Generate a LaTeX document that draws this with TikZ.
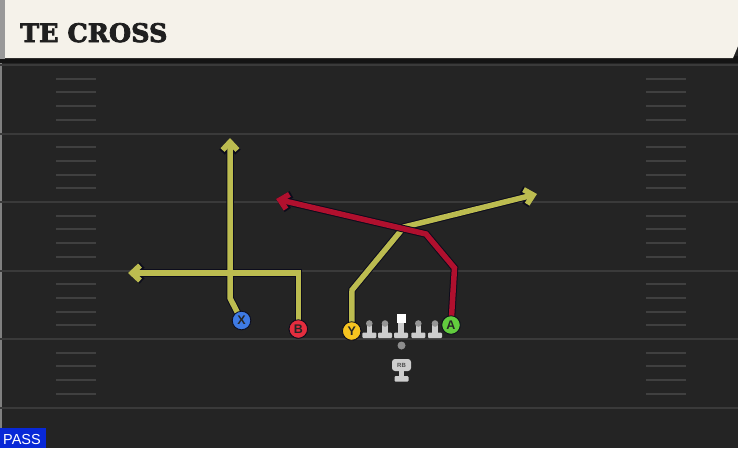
\documentclass[tikz,border=0pt]{standalone}
\usepackage{fontspec}
\setmainfont{Liberation Sans}
\newfontfamily\titlefont[BoldFeatures={FakeBold=3}]{DejaVu Serif}
\usetikzlibrary{arrows.meta}
\definecolor{field}{RGB}{36,36,36}
\definecolor{yardline}{RGB}{58,58,58}
\definecolor{hashc}{RGB}{64,64,64}
\definecolor{cream}{RGB}{245,242,234}
\definecolor{yroute}{RGB}{188,188,80}
\definecolor{rroute}{RGB}{176,16,46}
\definecolor{outl}{RGB}{12,12,28}
\definecolor{xblue}{RGB}{62,122,228}
\definecolor{bred}{RGB}{228,45,62}
\definecolor{yyel}{RGB}{246,196,32}
\definecolor{agreen}{RGB}{98,204,62}
\definecolor{passblue}{RGB}{8,40,215}
\definecolor{olbody}{RGB}{205,205,205}
\definecolor{olhead}{RGB}{150,150,150}
\tikzset{
  yline/.style={draw=yardline, line width=2},
  hashmark/.style={draw=hashc, line width=2},
  routeout/.style={draw=outl, line width=7.5, line join=miter, -{Straight Barb[length=8.5,width=16,line width=7.5]}},
  routey/.style={draw=yroute, line width=5.5, line join=miter, -{Straight Barb[length=8,width=15,line width=5.5]}},
  router/.style={draw=rroute, line width=5.5, line join=miter, -{Straight Barb[length=8,width=15,line width=5.5]}},
  player/.style={circle, draw=outl, line width=0.8, minimum size=18.5, inner sep=0, font=\fontsize{12.5}{12.5}\selectfont\bfseries, text=black!85},
  ol/.pic={
    \fill[olbody, rounded corners=1] (-7,0) rectangle (7,-5.5);
    \fill[olbody] (-2.8,-4) rectangle (2.8,-14);
    \fill[olhead] (0,-14.5) circle (3.3);
  },
  olc/.pic={
    \fill[olbody, rounded corners=1] (-7,0) rectangle (7,-5.5);
    \fill[olbody] (-2.8,-4) rectangle (2.8,-16);
    \fill[white] (-4.5,-15.5) rectangle (4.5,-24.5);
  }
}
\begin{document}
\begin{tikzpicture}[x=1pt,y=-1pt]
\useasboundingbox (0,0) rectangle (738,448);
% background
\fill[field] (0,0) rectangle (738,448);
\fill[black!50] (0,62) rectangle (2,448);
% yard lines and hashes
\foreach \y in {65,133.5,202,270.5,339,407.5} {
  \draw[yline] (0,\y) -- (738,\y);
}
\foreach \y in {65,133.5,202,270.5,339} {
  \foreach \k in {1,2,3,4} {
    \draw[hashmark] (56,\y+\k*13.7) -- (96,\y+\k*13.7);
    \draw[hashmark] (646,\y+\k*13.7) -- (686,\y+\k*13.7);
  }
}
% header
\fill[black!92] (0,56) rectangle (738,63);
\fill[black!40] (0,0) rectangle (5,59);
\fill[cream] (5,0) -- (738,0) -- (738,46) -- (733,58) -- (5,58) -- cycle;
\node[anchor=base west, inner sep=0, text=black!88] (title) at (20,42)
  {\titlefont\fontsize{25.5}{25.5}\selectfont\bfseries TE CROSS};
% players
\node[player, fill=xblue] (X) at (241.5,320.5) {X};
\node[player, fill=bred] (B) at (298.3,329) {B};
\node[player, fill=yyel] (Y) at (351.7,331) {Y};
\node[player, fill=agreen] (A) at (451,325) {A};
% route waypoints
\coordinate (x1) at (230,298);
\coordinate (xe) at (230,138);
\coordinate (b1) at (298.3,273);
\coordinate (be) at (128,273);
\coordinate (y1) at (352,290);
\coordinate (y2) at (404,227);
\coordinate (ye) at (537,194);
\coordinate (a1) at (454.5,268);
\coordinate (a2) at (426,234);
\coordinate (ae) at (276,199);
% routes
\draw[routeout] (X.center) -- (x1) -- (xe);
\draw[routeout] (B.center) -- (b1) -- (be);
\draw[routey] (X.center) -- (x1) -- (xe);
\draw[routey] (B.center) -- (b1) -- (be);
\draw[routeout] (Y.center) -- (y1) -- (y2) -- (ye);
\draw[routey] (Y.center) -- (y1) -- (y2) -- (ye);
\draw[routeout] (A.center) -- (a1) -- (a2) -- (ae);
\draw[router] (A.center) -- (a1) -- (a2) -- (ae);
% redraw player circles on top
\node[player, fill=xblue] at (X) {X};
\node[player, fill=bred] at (B) {B};
\node[player, fill=yyel] at (Y) {Y};
\node[player, fill=agreen] at (A) {A};
% offensive line
\pic at (369.3,338) {ol};
\pic at (385,338) {ol};
\pic at (401,338) {olc};
\pic at (418.3,338) {ol};
\pic at (435,338) {ol};
% QB dot
\fill[black!45] (401.5,345.5) circle (4);
% RB
\fill[olbody] (399,370) rectangle (404,377);
\fill[olbody, rounded corners=1] (394.5,376) rectangle (408.5,381.5);
\node[fill=olbody, rounded corners=3, minimum width=19, minimum height=12, inner sep=0,
  font=\fontsize{6}{6}\selectfont\bfseries, text=black!70] (RB) at (401.5,365) {RB};
% PASS label
\fill[passblue] (0,428) rectangle (46,448);
\node[anchor=base west, inner sep=0, text=white, font=\fontsize{14.5}{14.5}\selectfont] (pass) at (3,444) {PASS};
\end{tikzpicture}
\end{document}
